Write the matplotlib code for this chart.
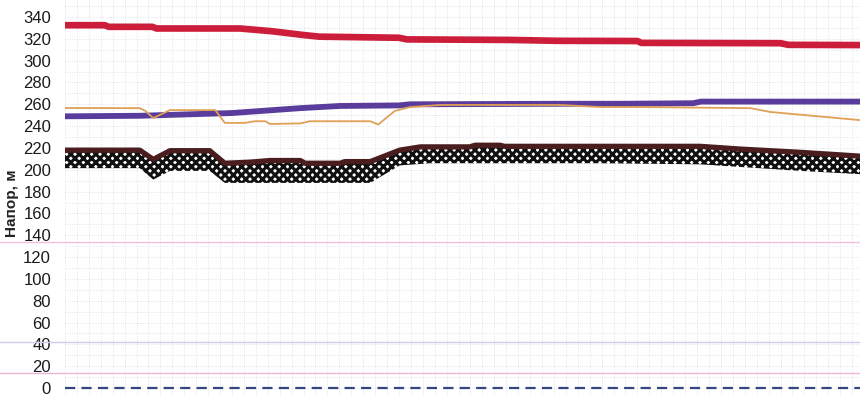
import matplotlib
matplotlib.use("Agg")
import matplotlib.pyplot as plt
from matplotlib.ticker import MultipleLocator

plt.rcParams['font.family'] = ['Liberation Sans', 'DejaVu Sans']
plt.rcParams['hatch.linewidth'] = 2.2

# head along the pipeline, position in % of route length
red_x = [0, 5, 5.5, 11, 11.5, 22, 26, 30, 32, 42, 43, 56, 62, 72, 72.5, 90, 91, 100]
red_y = [332.5, 332.5, 331, 331, 329.5, 329.5, 327, 323.5, 322, 321, 319.5, 319, 318.2, 318, 316.3, 316, 314.5, 314.3]

purple_x = [0, 9.4, 21, 29.6, 34.6, 42, 43.4, 62, 70, 79, 80, 100]
purple_y = [249, 249.5, 252, 256.5, 258.5, 259, 260, 260.5, 260.5, 261, 262.5, 262.5]

orange_x = [0, 9.4, 10.1, 11.1, 13.2, 18.9, 20.1, 22.6, 23.9, 25.2, 25.8, 29.6, 30.8,
            38.4, 39.4, 41.5, 43.4, 47.2, 62.3, 67.3, 72.3, 86.2, 88.7, 92.5, 100]
orange_y = [256.6, 256.5, 254, 247.4, 254.7, 254.7, 243, 243, 244.5, 244.5, 242, 242.5, 244.5,
            244.5, 241.5, 254, 257.5, 259.4, 259.4, 257.5, 257.5, 256.5, 253, 250.5, 245.5]

brown_x = [0, 9.4, 11.1, 13.2, 18.2, 20.1, 23.3, 25.8, 29.6, 30.2, 34.6, 35.2, 38.4,
           42.1, 44.7, 50.9, 51.6, 54.7, 55.3, 79.9, 84.9, 92.5, 100]
brown_y = [218, 218, 209.5, 217.5, 217.5, 206, 207, 208.5, 208.5, 206, 206, 207.5, 207.5,
           218, 221, 221, 222.5, 222.5, 221.5, 221.5, 219, 216, 212.5]

band_x = [0, 9.4, 11.1, 13.2, 18.2, 20.1, 38.4, 42.1, 45.9, 67.3, 79.9, 92.5, 100]
band_low = [201.5, 201.5, 191, 199, 199, 188, 188, 204, 206, 206, 205, 199, 196]

pink_levels = [133.8, 42.2, 13.7]
pink_colors = ['#f0c0dc', '#ccccf0', '#f0b4d4']

y_ticks = list(range(0, 341, 20))

fig = plt.figure(figsize=(8.6, 3.96), dpi=100)
ax = fig.add_axes([65 / 860, 0, 795 / 860, 1])

ax.set_xlim(0, 100)
ax.set_ylim(-7.3, 355.6)

# faint dotted grid
ax.yaxis.set_major_locator(MultipleLocator(20))
ax.yaxis.set_minor_locator(MultipleLocator(10))
ax.xaxis.set_major_locator(MultipleLocator(3))
ax.xaxis.set_minor_locator(MultipleLocator(1.5))
ax.grid(which='both', color='#dcdce4', linestyle=':', linewidth=0.6)
ax.set_axisbelow(True)

for lvl, c in zip(pink_levels, pink_colors):
    ax.axhline(lvl, xmin=-0.09, xmax=1, color=c, linewidth=1.0, clip_on=False, zorder=1)

ax.axhline(0, color='#34467e', linewidth=1.6, dashes=(4.6, 2.8), zorder=3)

# checkered band under the brown line
interp_top = []
for xv in band_x:
    for i in range(len(brown_x) - 1):
        if brown_x[i] <= xv <= brown_x[i + 1]:
            f = (xv - brown_x[i]) / (brown_x[i + 1] - brown_x[i]) if brown_x[i + 1] > brown_x[i] else 0
            interp_top.append(brown_y[i] + f * (brown_y[i + 1] - brown_y[i]))
            break
ax.fill_between(band_x, band_low, interp_top, facecolor='white', edgecolor='#111111',
                hatch='xxxx', linewidth=0, zorder=4)

ax.plot(brown_x, brown_y, color='#4a1e1e', linewidth=3.8, zorder=5)
ax.plot(red_x, red_y, color='#cc1e3a', linewidth=4.8, zorder=5)
ax.plot(purple_x, purple_y, color='#5a3c9c', linewidth=4.2, zorder=5)
ax.plot(orange_x, orange_y, color='#e0a056', linewidth=1.3, zorder=6)

ax.set_yticks(y_ticks)
ax.set_yticklabels([str(v) for v in y_ticks])
ax.tick_params(axis='y', which='both', length=0, pad=10, labelsize=12, labelcolor='#1a1a1a')
ax.tick_params(axis='x', which='both', length=0, labelbottom=False)
for s in ax.spines.values():
    s.set_visible(False)

fig.text(12 / 860, 1 - 203 / 396, 'Напор, м', rotation=90, ha='center', va='center',
         fontsize=11, fontweight='bold', color='#222222')

fig.savefig('out.png', dpi=100)
